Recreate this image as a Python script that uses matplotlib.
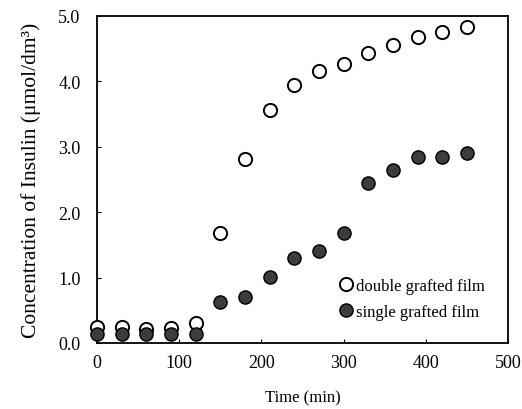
import numpy as np
import matplotlib
matplotlib.use("Agg")
import matplotlib.pyplot as plt

# sampling times (min)
time_min = [0, 30, 60, 90, 120, 150, 180, 210, 240, 270, 300, 330, 360, 390, 420, 450]

# concentration of insulin (umol/dm3)
double_grafted = [0.25, 0.25, 0.22, 0.23, 0.30, 1.68, 2.81, 3.56, 3.94, 4.15,
                  4.27, 4.43, 4.56, 4.67, 4.76, 4.83]
single_grafted = [0.13, 0.13, 0.13, 0.13, 0.13, 0.62, 0.71, 1.01, 1.30, 1.41,
                  1.68, 2.45, 2.65, 2.84, 2.84, 2.91]

x_ticks = [0, 100, 200, 300, 400, 500]
y_ticks = [0.0, 1.0, 2.0, 3.0, 4.0, 5.0]

plt.rcParams['font.family'] = ['Liberation Serif', 'DejaVu Serif']

fig = plt.figure(figsize=(5.22, 4.10), dpi=100)
ax = fig.add_axes([0.186, 0.161, 0.787, 0.798])

ax.plot(time_min, double_grafted, linestyle='none', marker='o', markersize=9.5,
        markerfacecolor='white', markeredgecolor='black', markeredgewidth=1.4,
        label='double grafted film', zorder=3, clip_on=False)
ax.plot(time_min, single_grafted, linestyle='none', marker='o', markersize=9.5,
        markerfacecolor='#3c3c3c', markeredgecolor='black', markeredgewidth=1.0,
        label='single grafted film', zorder=4, clip_on=False)

ax.set_xlim(0, 500)
ax.set_ylim(0, 5)
ax.set_xticks(x_ticks)
ax.set_yticks(y_ticks)
ax.set_yticklabels([f"{v:.1f}" for v in y_ticks])
ax.tick_params(direction='in', length=3, width=0.8, labelsize=13)
ax.tick_params(axis='x', pad=8)
ax.tick_params(axis='y', pad=12)

for s in ax.spines.values():
    s.set_linewidth(1.3)

ax.set_xlabel('Time (min)', fontsize=12, labelpad=13)
ax.set_ylabel('Concentration of Insulin (\u03bcmol/dm\u00b3)', fontsize=15.5, labelpad=12)

ax.legend(loc='center left', bbox_to_anchor=(0.585, 0.134), frameon=False,
          fontsize=12, handlelength=1.0, handletextpad=0.1, labelspacing=0.6,
          borderaxespad=0.0, borderpad=0.0)

fig.savefig('out.png', dpi=100)
